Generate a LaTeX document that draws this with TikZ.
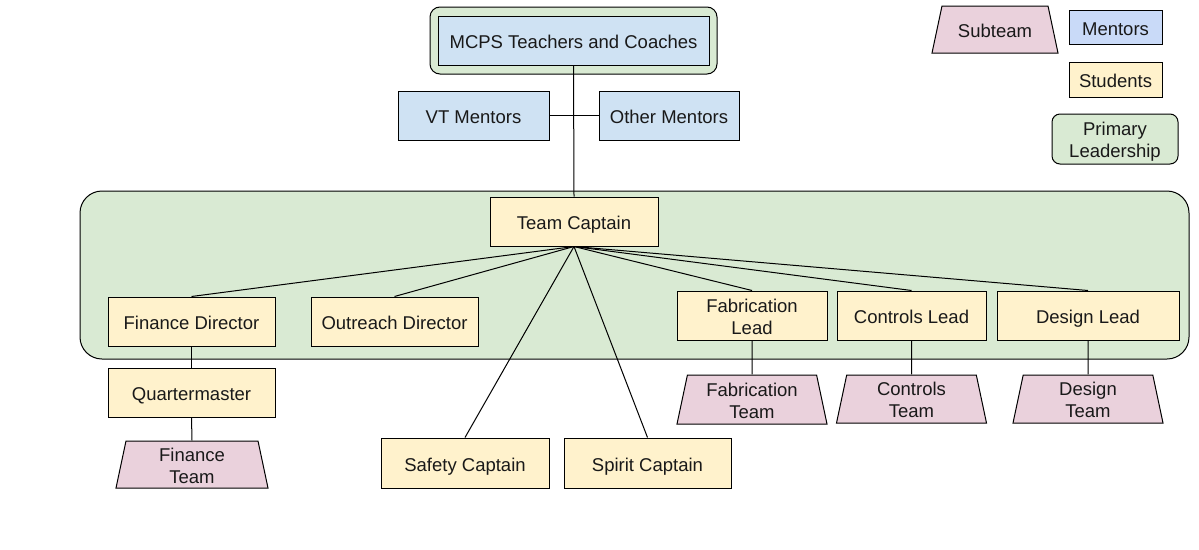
\documentclass[tikz,border=0pt]{standalone}
\usepackage{fontspec}
\setmainfont{Liberation Sans}
\usetikzlibrary{shapes.geometric}
\definecolor{mblue}{HTML}{CFE2F3}
\definecolor{lblue}{HTML}{C9DAF8}
\definecolor{myellow}{HTML}{FFF2CC}
\definecolor{mgreen}{HTML}{D9EAD3}
\definecolor{mpink}{HTML}{EAD1DC}
\tikzset{
  base/.style={draw=black, line width=1pt, inner sep=0pt, align=center,
    font=\fontsize{18.5}{22}\selectfont, text=black!90, text depth=0pt,
    text height=16.4pt},
  two/.style={text height=37pt},
  mentor/.style={base, fill=mblue, rectangle},
  stu/.style={base, fill=myellow, rectangle},
  lead/.style={base, fill=mgreen, rectangle},
  team/.style={base, fill=mpink, trapezium, trapezium left angle=78,
    trapezium right angle=78, trapezium stretches body, minimum width=150pt},
  conn/.style={draw=black, line width=1pt},
  sz/.style 2 args={minimum width=#1pt, minimum height=#2pt}
}
\begin{document}
\begin{tikzpicture}[x=1pt,y=-1pt]
\useasboundingbox (0,0) rectangle (1199,549);
% containers
\node[lead, rounded corners=22pt, sz={1109}{168}] (pl) at (634.5,275) {};
\node[lead, rounded corners=10pt, sz={287}{67}] (grp) at (573.5,40.5) {};
% nodes
\node[mentor, sz={271}{49}] (mcps) at (573.5,40.5) {MCPS Teachers and Coaches};
\node[mentor, sz={151}{49}] (vt) at (473.5,115.5) {VT Mentors};
\node[mentor, sz={140}{49}] (om) at (669,115.5) {Other Mentors};
\node[stu, sz={168}{49}] (tc) at (574,221.5) {Team Captain};
\node[stu, sz={167}{49}] (fd) at (191.5,321.5) {Finance Director};
\node[stu, sz={167}{49}] (od) at (394.5,321.5) {Outreach Director};
\node[stu, two, sz={150}{49}] (fl) at (752,315.5) {Fabrication\\Lead};
\node[stu, sz={149}{49}] (cl) at (911.5,315.5) {Controls Lead};
\node[stu, sz={182}{49}] (dl) at (1088,315.5) {Design Lead};
\node[stu, sz={167}{49}] (qm) at (191.5,392.5) {Quartermaster};
\node[stu, sz={168}{50}] (sc) at (465,463) {Safety Captain};
\node[stu, sz={167}{50}] (spc) at (647.5,463) {Spirit Captain};
\node[team, two, minimum width=152pt, inner ysep=5pt] (ft) at (192,464.5) {Finance\\Team};
\node[team, two, inner ysep=6pt] (fbt) at (752,399.5) {Fabrication\\Team};
\node[team, two, inner ysep=5.5pt] (ct) at (911.5,399) {Controls\\Team};
\node[team, two, inner ysep=5.5pt] (dt) at (1088,399) {Design\\Team};
% legend
\node[team, minimum width=126pt, inner ysep=15.3pt] (lsub) at (995,29.5) {Subteam};
\node[base, fill=lblue, sz={93}{34}] (lmen) at (1115.5,27) {Mentors};
\node[stu, sz={93}{35}] (lstu) at (1115.5,79.5) {Students};
\node[lead, two, rounded corners=8pt, sz={126}{50}] (llead) at (1115,139) {Primary\\Leadership};
% connectors
\draw[conn] (mcps.south) -- (tc.north);
\draw[conn] (vt.east) -- (om.west);
\draw[conn] (tc.south) -- (fd.north);
\draw[conn] (tc.south) -- (od.north);
\draw[conn] (tc.south) -- (sc.north);
\draw[conn] (tc.south) -- (spc.north);
\draw[conn] (tc.south) -- (fl.north);
\draw[conn] (tc.south) -- (cl.north);
\draw[conn] (tc.south) -- (dl.north);
\draw[conn] (fd.south) -- (qm.north);
\draw[conn] (qm.south) -- (ft.north);
\draw[conn] (fl.south) -- (fbt.north);
\draw[conn] (cl.south) -- (ct.north);
\draw[conn] (dl.south) -- (dt.north);
\end{tikzpicture}
\end{document}
